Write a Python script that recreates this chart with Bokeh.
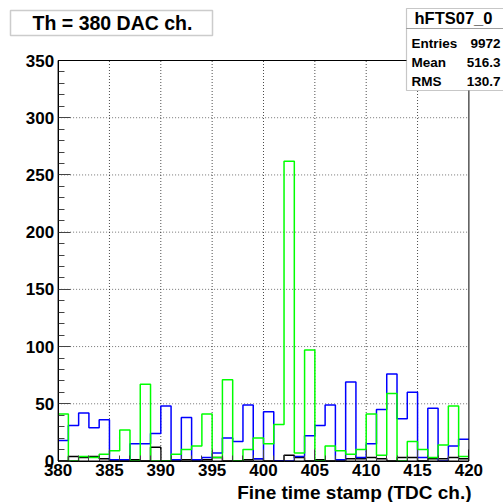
from bokeh.plotting import figure
from bokeh.models import Range1d, SingleIntervalTicker, Label, BoxAnnotation, LinearAxis
from bokeh.embed import file_html
from bokeh.resources import INLINE

# ---- data (bin low edges, TDC channels 380..419) ----
bin_edges = list(range(380, 421))
blue_counts = [18, 31, 42, 29, 36, 1, 1, 15, 15, 24,
               48, 1, 38, 1, 3, 7, 20, 17, 49, 2,
               43, 0, 0, 4, 22, 31, 49, 1, 69, 3,
               15, 45, 76, 37, 60, 3, 46, 0, 13, 19]
green_counts = [41, 0, 4, 3, 6, 9, 27, 0, 67, 0,
                0, 6, 10, 13, 41, 3, 71, 0, 10, 20,
                15, 32, 262, 7, 97, 0, 13, 9, 6, 10,
                41, 5, 59, 0, 17, 10, 3, 14, 48, 4]
black_counts = [0, 4, 3, 4, 2, 0, 0, 1, 0, 12,
                0, 0, 1, 0, 1, 3, 0, 0, 1, 2,
                0, 0, 5, 3, 0, 1, 0, 0, 2, 2,
                3, 2, 0, 3, 3, 0, 2, 2, 3, 2]
x_ticks = [380, 385, 390, 395, 400, 405, 410, 415, 420]
y_ticks = [0, 50, 100, 150, 200, 250, 300, 350]
title_text = "Th = 380 DAC ch."
x_title = "Fine time stamp (TDC ch.)"
stats_name = "hFTS07_0"
stats_rows = [("Entries", "9972"), ("Mean", "516.3"), ("RMS", "130.7")]

FONT = "Liberation Sans"
W, H = 503, 502
# pixel placement of the histogram frame on the canvas
FL, FR, FT, FB = 57.6, 468.4, 60.0, 460.5
XMIN, XMAX = x_ticks[0], x_ticks[-1]
YMIN, YMAX = y_ticks[0], y_ticks[-1]
kx = (FR - FL) / (XMAX - XMIN)
ky = (FB - FT) / (YMAX - YMIN)
x_range = Range1d(XMIN - FL / kx, XMAX + (W - FR) / kx)
y_range = Range1d(YMIN - (H - FB) / ky, YMAX + FT / ky)

p = figure(width=W, height=H, output_backend="svg", toolbar_location=None,
           x_range=x_range, y_range=y_range,
           x_axis_location=None, y_axis_location=None,
           min_border=0, min_border_left=0, min_border_right=0,
           min_border_top=0, min_border_bottom=0)
p.background_fill_color = "white"
p.border_fill_color = "white"
p.outline_line_color = None
p.xgrid.visible = False
p.ygrid.visible = False

# grid lines (dotted) at major ticks, limited to the frame
gx = x_ticks[1:-1]
gy = y_ticks[1:-1]
p.segment(x0=gx, x1=gx, y0=[YMIN] * len(gx), y1=[YMAX] * len(gx),
          line_color="black", line_alpha=0.7, line_dash="1 2", line_width=1)
p.segment(x0=[XMIN] * len(gy), x1=[XMAX] * len(gy), y0=gy, y1=gy,
          line_color="black", line_alpha=0.55, line_dash="1 2", line_width=1)

def steps(counts):
    return counts + [counts[-1]]

p.step(bin_edges, steps(black_counts), mode="after", line_color="black", line_width=1.5)
p.step(bin_edges, steps(blue_counts), mode="after", line_color="#0000ff", line_width=1.5)
p.step(bin_edges, steps(green_counts), mode="after", line_color="#00ff00", line_width=1.5)

# frame outline
p.add_layout(BoxAnnotation(left=XMIN, right=XMAX, bottom=YMIN, top=YMAX,
                           fill_alpha=0, line_color="black", line_width=1, line_alpha=1))

def style_axis(ax, interval):
    ax.ticker = SingleIntervalTicker(interval=interval, num_minor_ticks=5)
    ax.major_tick_in = 12
    ax.major_tick_out = 0
    ax.minor_tick_in = 6
    ax.minor_tick_out = 0
    ax.major_tick_line_color = "#444444"
    ax.minor_tick_line_color = "#444444"
    ax.axis_line_color = "black"
    ax.major_label_text_font = FONT
    ax.major_label_text_font_style = "bold"
    ax.major_label_text_font_size = "17px"
    ax.major_label_text_color = "black"

xax = LinearAxis(fixed_location=YMIN, bounds=(XMIN, XMAX))
style_axis(xax, x_ticks[1] - x_ticks[0])
xax.major_label_standoff = 3
p.add_layout(xax, "below")
yax = LinearAxis(fixed_location=XMIN, bounds=(YMIN, YMAX))
style_axis(yax, y_ticks[1] - y_ticks[0])
yax.major_label_standoff = 4
p.add_layout(yax, "left")

SU = dict(left_units="screen", right_units="screen", bottom_units="screen", top_units="screen")

def cy(y):  # canvas y (from top) -> screen y (from bottom)
    return H - y

# Title box
p.add_layout(BoxAnnotation(left=10, right=212, bottom=cy(35), top=cy(10),
                           fill_color="white", fill_alpha=1, line_color="#555555", line_width=1.5, **SU))
p.add_layout(Label(x=112, y=cy(22.5), x_units="screen", y_units="screen", text=title_text,
                   text_align="center", text_baseline="middle", text_font=FONT,
                   text_font_style="bold", text_font_size="19.5px", text_color="black"))

# Stats box
p.add_layout(BoxAnnotation(left=406, right=510, bottom=cy(90), top=cy(8),
                           fill_color="white", fill_alpha=1, line_color="#444444", line_width=1.2, **SU))
p.add_layout(BoxAnnotation(left=406, right=510, bottom=cy(28), top=cy(28),
                           fill_alpha=0, line_color="#444444", line_width=1, **SU))
p.add_layout(Label(x=453, y=cy(17.5), x_units="screen", y_units="screen", text=stats_name,
                   text_align="center", text_baseline="middle", text_font=FONT,
                   text_font_style="bold", text_font_size="16.5px", text_color="black"))
for i, (k, v) in enumerate(stats_rows):
    yy = cy(42.5 + 19.3 * i)
    p.add_layout(Label(x=411, y=yy, x_units="screen", y_units="screen", text=k,
                       text_align="left", text_baseline="middle", text_font=FONT,
                       text_font_style="bold", text_font_size="13.5px", text_color="black"))
    p.add_layout(Label(x=500, y=yy, x_units="screen", y_units="screen", text=v,
                       text_align="right", text_baseline="middle", text_font=FONT,
                       text_font_style="bold", text_font_size="13.5px", text_color="black"))

# X axis title, right aligned
p.add_layout(Label(x=471, y=cy(492), x_units="screen", y_units="screen", text=x_title,
                   text_align="right", text_baseline="middle", text_font=FONT,
                   text_font_style="bold", text_font_size="19px", text_color="black"))

open("out.html", "w").write(file_html(p, INLINE))
